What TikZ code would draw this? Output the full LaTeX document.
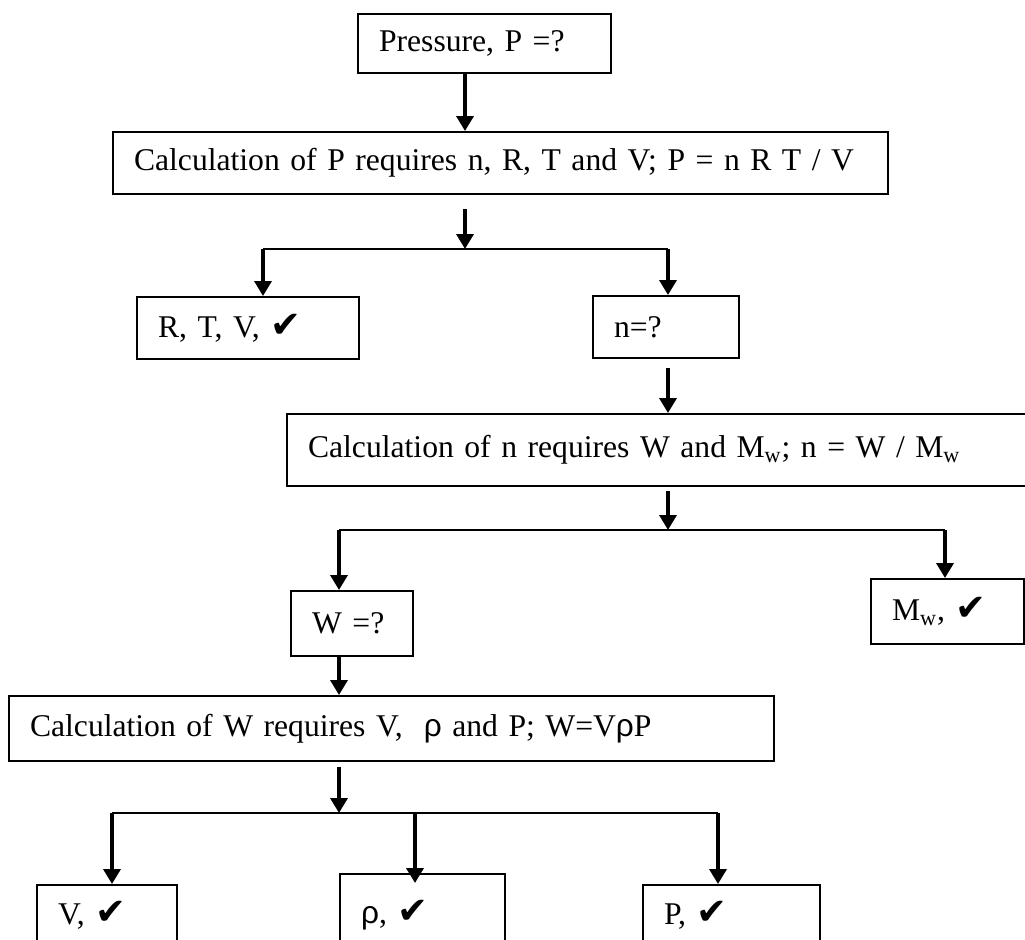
\documentclass[tikz,border=0pt]{standalone}
\usepackage{fontspec}
\setmainfont{Liberation Serif}
\newfontfamily\checkfont{DejaVu Sans}
\newfontfamily\rhofont{Liberation Sans}
\usetikzlibrary{arrows.meta}
\newcommand{\ok}{{\checkfont\fontsize{21}{22}\selectfont ✔}}
\newcommand{\rh}{{\rhofont ρ}}
\begin{document}
\begin{tikzpicture}[x=0.02cm,y=-0.02cm,box/.style={shape=rectangle,draw=black,line width=1.2pt,anchor=north west,inner xsep=0pt,inner ysep=0pt,align=left,font=\fontsize{18}{22}\selectfont,execute at begin node={\hspace*{0.42cm}\hbox\bgroup},execute at end node={\egroup\hfill\null}},flow/.style={line width=2pt,-{Triangle[width=0.34cm,length=0.3cm]}},branch/.style={line width=1.3pt}]
\useasboundingbox (0,0) rectangle (1025,940);
\clip (0,0) rectangle (1025,940);
\node[box,text width=5.06cm,minimum height=1.18cm] (P) at (357,13) {Pressure, P =?};
\node[box,text width=15.5cm,minimum height=1.24cm] (CP) at (112,131) {Calculation of P requires n, R, T and V; P = n R T / V};
\node[box,text width=4.44cm,minimum height=1.24cm] (K) at (136,296) {R, T, V, \ok};
\node[box,text width=2.92cm,minimum height=1.24cm] (N) at (592,295) {n=?};
\node[box,text width=15cm,minimum height=1.44cm] (CN) at (286,413) {Calculation of n requires W and M\textsubscript{w}; n = W / M\textsubscript{w}};
\node[box,text width=2.44cm,minimum height=1.3cm] (W) at (290,590) {W =?};
\node[box,text width=3.06cm,minimum height=1.3cm] (M) at (870,578) {M\textsubscript{w}, \ok};
\node[box,text width=15.3cm,minimum height=1.3cm] (CW) at (8,695) {Calculation of W requires V,\ \ \rh{} and P; W=V\rh P};
\node[box,text width=2.8cm,minimum height=1.2cm] (V) at (36,884) {V, \ok};
\node[box,text width=3.3cm,minimum height=1.64cm] (R) at (339,873) {\rh, \ok};
\node[box,text width=3.54cm,minimum height=1.2cm] (PK) at (642,884) {P, \ok};
% branch points
\coordinate (j1) at (465,249);
\coordinate (k1) at (263,249);
\coordinate (n1) at (668,249);
\coordinate (j2) at (668,530);
\coordinate (w1) at (339,530);
\coordinate (m1) at (945,530);
\coordinate (j3) at (339,813);
\coordinate (v1) at (112,813);
\coordinate (r1) at (415,813);
\coordinate (p1) at (718,813);
\draw[flow] (P.south -| j1) -- (CP.north -| j1);
\draw[flow] (CP.south -| j1) ++(0,14) -- (j1);
\draw[branch] (k1) -- (n1);
\draw[flow] (k1) -- (k1 |- K.north);
\draw[flow] (n1) -- (n1 |- N.north);
\draw[flow] (N.south -| n1) ++(0,9) -- (CN.north -| n1);
\draw[flow] (CN.south -| j2) ++(0,4) -- (j2);
\draw[branch] (w1) -- (m1);
\draw[flow] (w1) -- (w1 |- W.north);
\draw[flow] (m1) -- (m1 |- M.north);
\draw[flow] (W.south -| w1) -- (CW.north -| w1);
\draw[flow] (CW.south -| j3) ++(0,5) -- (j3);
\draw[branch] (v1) -- (p1);
\draw[flow] (v1) -- (v1 |- V.north);
\draw[flow] (r1) -- ++(0,70);
\draw[flow] (p1) -- (p1 |- PK.north);
\end{tikzpicture}
\end{document}
